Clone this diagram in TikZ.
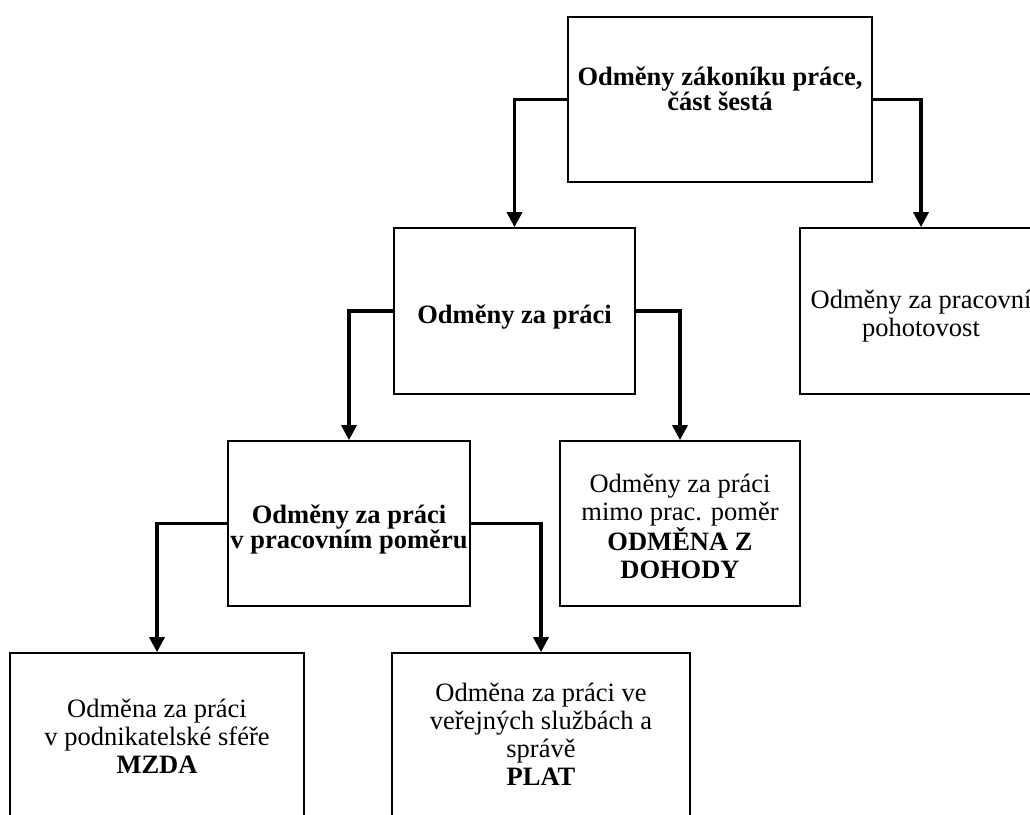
\documentclass[tikz,border=0pt]{standalone}
\usepackage{fontspec}
\setmainfont{Liberation Serif}
\usetikzlibrary{arrows.meta}

\begin{document}
\begin{tikzpicture}[
    x=0.5pt, y=-0.5pt,
    % Frames of the tree and the texts set inside them
    frame/.style={draw, line width=0.85pt, inner sep=0pt, minimum height=82.5pt},
    plain/.style={align=center, inner sep=0pt, font=\fontsize{13.25}{14}\selectfont},
    head/.style={align=center, inner sep=0pt, font=\fontsize{13.25}{12.5}\selectfont\bfseries},
    % Thick elbow connectors with solid triangle tips
    link/.style={line width=1.7pt, -{Triangle[width=7.5pt, length=7.5pt]}}
]
\useasboundingbox (0,0) rectangle (1030,815);

% ==========================================
% LEVEL 1
% ==========================================
\node[frame, minimum width=152pt] (code) at (720,99.5) {};
\node[head, yshift=5.5pt] (codetext) at (code.center) {Odměny zákoníku práce,\\část šestá};

% ==========================================
% LEVEL 2
% ==========================================
\node[frame, minimum width=120.5pt, minimum height=83pt] (work) at (514.5,311) {};
\node[head, yshift=-3pt] (worktext) at (work.center) {Odměny za práci};

\node[frame, minimum width=121pt, minimum height=83pt] (standby) at (921,311) {};
\node[plain, yshift=-2.5pt] (standbytext) at (standby.center) {Odměny za pracovní\\pohotovost};

% ==========================================
% LEVEL 3
% ==========================================
\node[frame, minimum width=121pt] (employ) at (349,523.5) {};
\node[head, yshift=-3pt] (employtext) at (employ.center) {Odměny za práci\\v pracovním poměru};

\node[frame, minimum width=120pt] (outside) at (680,523.5) {};
\node[plain, yshift=-1.5pt] (outsidetext) at (outside.center) {Odměny za práci\\mimo prac. poměr\\{\bfseries ODMĚNA Z}\\{\bfseries DOHODY}};

% ==========================================
% LEVEL 4 (cut off by the lower edge)
% ==========================================
\node[frame, minimum width=147pt, minimum height=83.5pt] (business) at (157,736.5) {};
\node[plain] (businesstext) at (business.center) {Odměna za práci\\v podnikatelské sféře\\{\bfseries MZDA}};

\node[frame, minimum width=149pt, minimum height=83.5pt] (public) at (541,736.5) {};
\node[plain, yshift=1pt] (publictext) at (public.center) {Odměna za práci ve\\veřejných službách a\\správě\\{\bfseries PLAT}};

% Connectors
\draw[link] (code.west) -| (work.north);
\draw[link] (code.east) -| (standby.north);
\draw[link] (work.west) -| (employ.north);
\draw[link] (work.east) -| (outside.north);
\draw[link] (employ.west) -| (business.north);
\draw[link] (employ.east) -| (public.north);

\end{tikzpicture}
\end{document}
